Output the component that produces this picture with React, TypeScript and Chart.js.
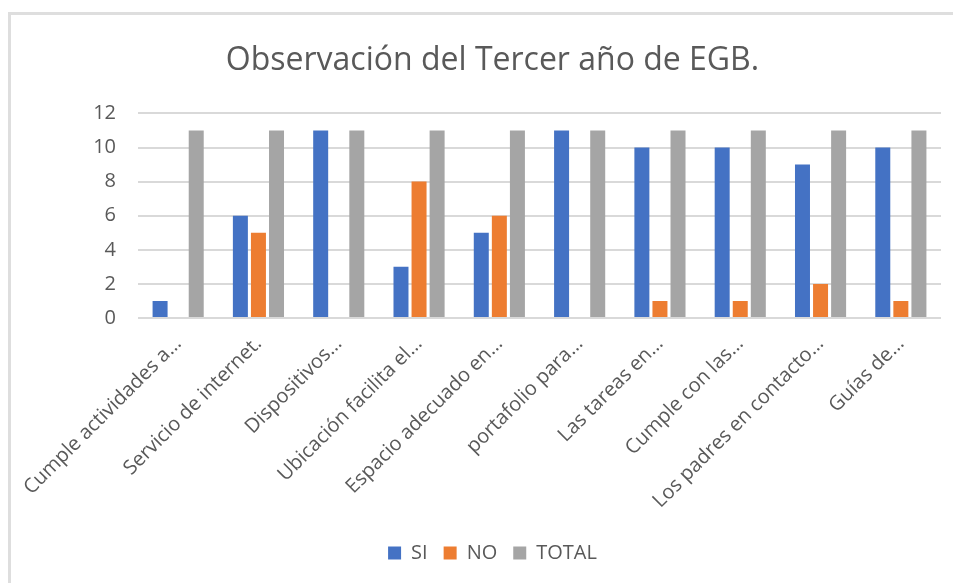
import React, { useEffect, useRef } from "react";
import { Chart, registerables } from "chart.js";

Chart.register(...registerables);

const title = "Observación del Tercer año de EGB.";
const categories = [
  "Cumple actividades a…",
  "Servicio de internet.",
  "Dispositivos…",
  "Ubicación facilita el…",
  "Espacio adecuado en…",
  "portafolio para…",
  "Las tareas en…",
  "Cumple con las…",
  "Los padres en contacto…",
  "Guías de…",
];
const siValues = [1, 6, 11, 3, 5, 11, 10, 10, 9, 10];
const noValues = [0, 5, 0, 8, 6, 0, 1, 1, 2, 1];
const totalValues = [11, 11, 11, 11, 11, 11, 11, 11, 11, 11];
const yTicks = [0, 2, 4, 6, 8, 10, 12];

const FONT = "'Open Sans', sans-serif";
const TEXT = "#595959";

export default function App() {
  const ref = useRef<HTMLCanvasElement | null>(null);

  useEffect(() => {
    document.body.style.margin = "0";
    const ctx = ref.current;
    if (!ctx) return;
    const chart = new Chart(ctx, {
      type: "bar",
      data: {
        labels: categories,
        datasets: [
          { label: "SI", data: siValues, backgroundColor: "#4472C4" },
          { label: "NO", data: noValues, backgroundColor: "#ED7D31" },
          { label: "TOTAL", data: totalValues, backgroundColor: "#A5A5A5" },
        ],
      },
      options: {
        animation: false,
        responsive: false,
        maintainAspectRatio: false,
        devicePixelRatio: 1,
        layout: { padding: { left: 44, right: 12, top: 0, bottom: 10 } },
        datasets: {
          bar: { categoryPercentage: 0.675, barPercentage: 0.83 },
        },
        plugins: {
          title: {
            display: true,
            text: title,
            color: TEXT,
            font: { family: FONT, size: 32, weight: "normal" },
            padding: { top: 42, bottom: 33 },
          },
          legend: {
            position: "bottom",
            labels: {
              color: TEXT,
              font: { family: FONT, size: 20 },
              boxWidth: 13,
              boxHeight: 13,
              padding: 16,
            },
          },
          tooltip: { enabled: false },
        },
        scales: {
          x: {
            grid: { display: false },
            border: { display: false },
            ticks: {
              color: TEXT,
              font: { family: FONT, size: 20 },
              maxRotation: 45,
              minRotation: 45,
              autoSkip: false,
              padding: 6,
            },
            afterFit: (s: any) => {
              s.height = 209;
              s.paddingLeft = 0;
              s.paddingRight = 0;
            },
          },
          y: {
            min: 0,
            max: 12,
            afterBuildTicks: (s: any) => {
              s.ticks = yTicks.map((v) => ({ value: v }));
            },
            grid: { color: "#d9d9d9", lineWidth: 2, drawTicks: false },
            border: { display: false },
            ticks: {
              color: TEXT,
              font: { family: FONT, size: 20 },
              padding: 22,
            },
            afterFit: (s: any) => {
              s.width = 94;
            },
          },
        },
      },
    });
    return () => chart.destroy();
  }, []);

  return (
    <div
      style={{
        position: "fixed",
        left: 0,
        top: 0,
        width: 953,
        height: 583,
        overflow: "hidden",
        background: "#fff",
      }}
    >
      <div
        style={{
          position: "absolute",
          left: 8,
          top: 12,
          width: 1000,
          height: 700,
          borderLeft: "3px solid #dedede",
          borderTop: "3px solid #dedede",
        }}
      />
      <canvas
        ref={ref}
        width={953}
        height={583}
        style={{ position: "absolute", left: 0, top: 0, width: 953, height: 583 }}
      />
    </div>
  );
}
